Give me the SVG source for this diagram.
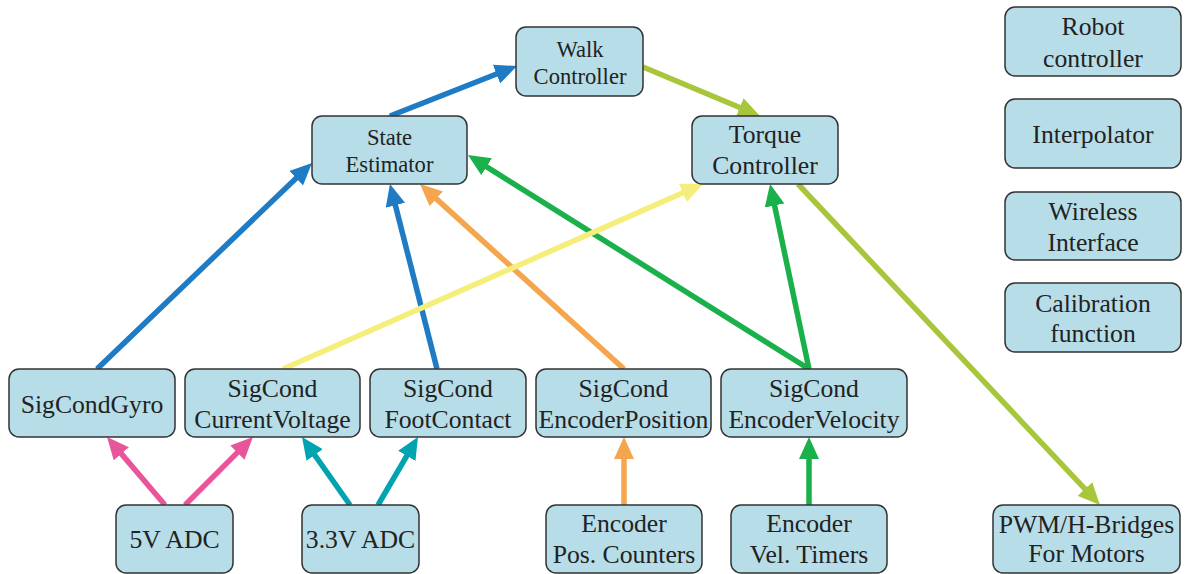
<svg xmlns="http://www.w3.org/2000/svg" width="1190" height="574" viewBox="0 0 1190 574">
<style>
.box{fill:#b7dde8;stroke:#333;stroke-width:1.5}
.c line{stroke-width:5.5;fill:none}
</style>
<defs>
<marker id="mPink" viewBox="0 0 22 20" refX="13" refY="10" markerWidth="22" markerHeight="20" markerUnits="userSpaceOnUse" orient="auto"><path d="M0,0 L22,10 L0,20 z" fill="#e8559b"/></marker>
<marker id="mTeal" viewBox="0 0 22 20" refX="13" refY="10" markerWidth="22" markerHeight="20" markerUnits="userSpaceOnUse" orient="auto"><path d="M0,0 L22,10 L0,20 z" fill="#00a3b0"/></marker>
<marker id="mOrange" viewBox="0 0 22 20" refX="13" refY="10" markerWidth="22" markerHeight="20" markerUnits="userSpaceOnUse" orient="auto"><path d="M0,0 L22,10 L0,20 z" fill="#f4a54e"/></marker>
<marker id="mGreen" viewBox="0 0 22 20" refX="13" refY="10" markerWidth="22" markerHeight="20" markerUnits="userSpaceOnUse" orient="auto"><path d="M0,0 L22,10 L0,20 z" fill="#1ab04a"/></marker>
<marker id="mBlue" viewBox="0 0 22 20" refX="13" refY="10" markerWidth="22" markerHeight="20" markerUnits="userSpaceOnUse" orient="auto"><path d="M0,0 L22,10 L0,20 z" fill="#1e7bc4"/></marker>
<marker id="mYellow" viewBox="0 0 22 20" refX="13" refY="10" markerWidth="22" markerHeight="20" markerUnits="userSpaceOnUse" orient="auto"><path d="M0,0 L22,10 L0,20 z" fill="#f5ee7a"/></marker>
<marker id="mLime" viewBox="0 0 22 20" refX="13" refY="10" markerWidth="22" markerHeight="20" markerUnits="userSpaceOnUse" orient="auto"><path d="M0,0 L22,10 L0,20 z" fill="#a8c63c"/></marker>
</defs>

<g id="connectors" class="c">
<line x1="165" y1="505" x2="112.9" y2="443.9" stroke="#e8559b" marker-end="url(#mPink)"/>
<line x1="185" y1="505" x2="246.6" y2="443.4" stroke="#e8559b" marker-end="url(#mPink)"/>
<line x1="350" y1="505" x2="307.2" y2="444.4" stroke="#00a3b0" marker-end="url(#mTeal)"/>
<line x1="378" y1="505" x2="413.4" y2="444.7" stroke="#00a3b0" marker-end="url(#mTeal)"/>
<line x1="624" y1="505" x2="624" y2="446" stroke="#f4a54e" marker-end="url(#mOrange)"/>
<line x1="809" y1="505" x2="809" y2="446" stroke="#1ab04a" marker-end="url(#mGreen)"/>
<line x1="97" y1="369" x2="305.5" y2="169.2" stroke="#1e7bc4" marker-end="url(#mBlue)"/>
<line x1="437" y1="369" x2="392.2" y2="192.7" stroke="#1e7bc4" marker-end="url(#mBlue)"/>
<line x1="624" y1="369" x2="426.7" y2="190.1" stroke="#f4a54e" marker-end="url(#mOrange)"/>
<line x1="809" y1="369" x2="475.6" y2="159.8" stroke="#1ab04a" marker-end="url(#mGreen)"/>
<line x1="809" y1="369" x2="771.9" y2="192.8" stroke="#1ab04a" marker-end="url(#mGreen)"/>
<line x1="283" y1="369" x2="694.8" y2="187.6" stroke="#f5ee7a" marker-end="url(#mYellow)"/>
<line x1="390" y1="116" x2="508.6" y2="69.3" stroke="#1e7bc4" marker-end="url(#mBlue)"/>
<line x1="643" y1="67" x2="751.7" y2="112.5" stroke="#a8c63c" marker-end="url(#mLime)"/>
<line x1="798" y1="184" x2="1093.8" y2="498.4" stroke="#a8c63c" marker-end="url(#mLime)"/>
</g>

<g font-family="'Liberation Serif', 'DejaVu Serif', serif" fill="#222" text-anchor="middle" font-size="25.7">
<g id="walk"><rect class="box" x="516" y="27" width="127" height="69" rx="10"/><text font-size="22.6" x="580" y="57">Walk</text><text font-size="22.6" x="580" y="84">Controller</text></g>
<g id="state"><rect class="box" x="312" y="116" width="155" height="68" rx="10"/><text font-size="22.6" x="389.5" y="145">State</text><text font-size="22.6" x="389.5" y="172">Estimator</text></g>
<g id="torque"><rect class="box" x="692" y="116" width="146" height="68" rx="10"/><text x="765" y="143">Torque</text><text x="765" y="174">Controller</text></g>

<g id="robot"><rect class="box" x="1005" y="7" width="176" height="69" rx="10"/><text x="1093" y="35">Robot</text><text x="1093" y="67">controller</text></g>
<g id="interp"><rect class="box" x="1005" y="99" width="176" height="69" rx="10"/><text x="1093" y="143">Interpolator</text></g>
<g id="wireless"><rect class="box" x="1005" y="192" width="176" height="68" rx="10"/><text x="1093" y="220">Wireless</text><text x="1093" y="251">Interface</text></g>
<g id="calib"><rect class="box" x="1005" y="283" width="176" height="69" rx="10"/><text x="1093" y="312">Calibration</text><text x="1093" y="342">function</text></g>

<g id="gyro"><rect class="box" x="9" y="369" width="166" height="68" rx="10"/><text x="92" y="413">SigCondGyro</text></g>
<g id="cv"><rect class="box" x="185" y="369" width="175" height="68" rx="10"/><text x="272.5" y="397">SigCond</text><text x="272.5" y="428">CurrentVoltage</text></g>
<g id="foot"><rect class="box" x="370" y="369" width="156" height="68" rx="10"/><text x="448" y="397">SigCond</text><text x="448" y="428">FootContact</text></g>
<g id="encpos"><rect class="box" x="536" y="369" width="175" height="68" rx="10"/><text x="623.5" y="397">SigCond</text><text x="623.5" y="428">EncoderPosition</text></g>
<g id="encvel"><rect class="box" x="721" y="369" width="186" height="68" rx="10"/><text x="814" y="397">SigCond</text><text x="814" y="428">EncoderVelocity</text></g>

<g id="adc5"><rect class="box" x="116" y="505" width="117" height="68" rx="10"/><text x="174.5" y="548">5V ADC</text></g>
<g id="adc33"><rect class="box" x="302" y="505" width="117" height="68" rx="10"/><text x="360.5" y="548">3.3V ADC</text></g>
<g id="poscnt"><rect class="box" x="546" y="505" width="156" height="68" rx="10"/><text x="624" y="532">Encoder</text><text x="624" y="563">Pos. Counters</text></g>
<g id="veltim"><rect class="box" x="731" y="505" width="156" height="68" rx="10"/><text x="809" y="532">Encoder</text><text x="809" y="563">Vel. Timers</text></g>
<g id="pwm"><rect class="box" x="993" y="505" width="187" height="68" rx="10"/><text x="1086.5" y="533">PWM/H-Bridges</text><text x="1086.5" y="562">For Motors</text></g>
</g>
</svg>
